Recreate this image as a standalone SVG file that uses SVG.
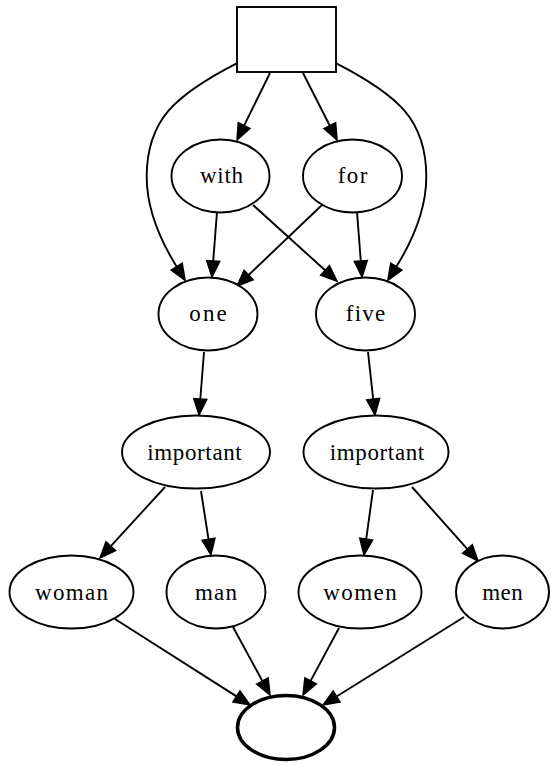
<svg xmlns="http://www.w3.org/2000/svg" width="551" height="764" viewBox="0 0 551 764">
  <style>
    .node { fill: #ffffff; stroke: #000000; stroke-width: 1.9; }
    .sink { fill: #ffffff; stroke: #000000; stroke-width: 3.5; }
    .edge { fill: none; stroke: #000000; stroke-width: 1.9; marker-end: url(#arrow); }
    .label { font-family: "Liberation Serif", "Times New Roman", serif; font-size: 23px; fill: #000000; text-anchor: middle; }
  </style>
  <defs>
    <!-- filled triangle arrowhead, base at the path end, tip 16px ahead -->
    <marker id="arrow" markerUnits="userSpaceOnUse" viewBox="-1 -1 18 15" markerWidth="18" markerHeight="15" refX="0" refY="6.5" orient="auto" overflow="visible">
      <path d="M0,0 L16,6.5 L0,13 Z" fill="#000000" stroke="#000000" stroke-width="1.5" stroke-linejoin="miter"/>
    </marker>
  </defs>
  <rect width="551" height="764" fill="#ffffff"/>

  <g id="edges">
    <path class="edge" d="M270,73 L244.1,125.6"/>
    <path class="edge" d="M303,73 L329.8,125.7"/>
    <path class="edge" d="M236.7,63.3 C175,95 146.7,120 146.7,176.7 C146.7,215 167.2,251.4 176.7,266.7"/>
    <path class="edge" d="M336.3,63.3 C398,95 426.3,120 426.3,176.7 C426.3,215 405.8,251.4 396.3,266.7"/>
    <path class="edge" d="M217,212 L213.2,261"/>
    <path class="edge" d="M253,205 L325.1,270.3"/>
    <path class="edge" d="M322,205 L248.6,275"/>
    <path class="edge" d="M357,212 L360.8,261"/>
    <path class="edge" d="M204,352 L200.3,399"/>
    <path class="edge" d="M368,352 L373.2,399.1"/>
    <path class="edge" d="M165,487 L110.8,546.2"/>
    <path class="edge" d="M201,491 L208.5,539.2"/>
    <path class="edge" d="M373,490 L366.2,539.1"/>
    <path class="edge" d="M412,487 L467.4,549.1"/>
    <path class="edge" d="M115,619 L236.5,696.4"/>
    <path class="edge" d="M233,627 L262.4,681"/>
    <path class="edge" d="M339,628 L310.6,680.9"/>
    <path class="edge" d="M464,617 L336.6,696.5"/>
  </g>

  <g id="root">
    <rect class="node" x="237" y="7" width="99" height="65"/>
  </g>
  <g id="with">
    <ellipse class="node" cx="220.5" cy="176" rx="49" ry="36.5"/>
    <text class="label" x="221.5" y="182.5" textLength="43" lengthAdjust="spacing">with</text>
  </g>
  <g id="for">
    <ellipse class="node" cx="352.5" cy="176" rx="49.5" ry="36.5"/>
    <text class="label" x="352.5" y="182.5" textLength="29.7" lengthAdjust="spacing">for</text>
  </g>
  <g id="one">
    <ellipse class="node" cx="208" cy="314" rx="49.5" ry="36.5"/>
    <text class="label" x="208" y="321" textLength="37.3" lengthAdjust="spacing">one</text>
  </g>
  <g id="five">
    <ellipse class="node" cx="365.5" cy="314" rx="49.5" ry="36.5"/>
    <text class="label" x="365.5" y="321" textLength="39.3" lengthAdjust="spacing">five</text>
  </g>
  <g id="important_one">
    <ellipse class="node" cx="196" cy="452" rx="74" ry="36.5"/>
    <text class="label" x="194.5" y="460" textLength="94.5" lengthAdjust="spacing">important</text>
  </g>
  <g id="important_five">
    <ellipse class="node" cx="376" cy="452" rx="72.5" ry="36.5"/>
    <text class="label" x="377" y="460" textLength="94.5" lengthAdjust="spacing">important</text>
  </g>
  <g id="woman">
    <ellipse class="node" cx="71.5" cy="592" rx="62" ry="36.5"/>
    <text class="label" x="71.5" y="599.5" textLength="73" lengthAdjust="spacing">woman</text>
  </g>
  <g id="man">
    <ellipse class="node" cx="216" cy="592" rx="49.5" ry="36.5"/>
    <text class="label" x="216" y="599.5" textLength="42" lengthAdjust="spacing">man</text>
  </g>
  <g id="women">
    <ellipse class="node" cx="360" cy="592" rx="61.5" ry="36.5"/>
    <text class="label" x="360" y="599.5" textLength="73.3" lengthAdjust="spacing">women</text>
  </g>
  <g id="men">
    <ellipse class="node" cx="502.5" cy="592" rx="46.5" ry="36.5"/>
    <text class="label" x="502.5" y="599.5" textLength="40.7" lengthAdjust="spacing">men</text>
  </g>
  <g id="sink">
    <ellipse class="sink" cx="286" cy="727.5" rx="48.5" ry="32"/>
  </g>
</svg>
